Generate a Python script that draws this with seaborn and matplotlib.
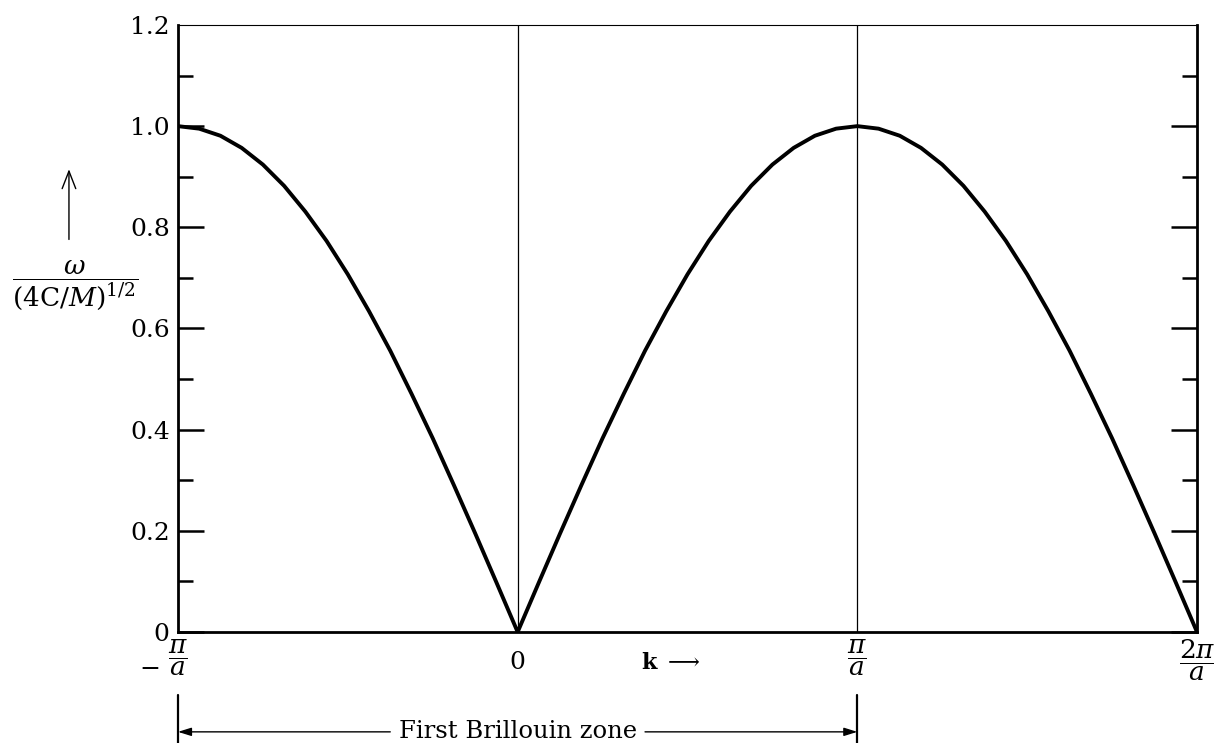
import matplotlib
matplotlib.use("Agg")
import matplotlib.pyplot as plt
import matplotlib.patches as mpatches
import matplotlib.transforms as mtransforms
import seaborn as sns
import pandas as pd

# Wavevector k, in units of pi/a, sampled every (pi/a)/16 from -pi/a to 2pi/a
k_pi_over_a = [
    -16/16, -15/16, -14/16, -13/16, -12/16, -11/16, -10/16, -9/16,
    -8/16, -7/16, -6/16, -5/16, -4/16, -3/16, -2/16, -1/16, 0.0,
    1/16, 2/16, 3/16, 4/16, 5/16, 6/16, 7/16, 8/16,
    9/16, 10/16, 11/16, 12/16, 13/16, 14/16, 15/16, 16/16,
    17/16, 18/16, 19/16, 20/16, 21/16, 22/16, 23/16, 24/16,
    25/16, 26/16, 27/16, 28/16, 29/16, 30/16, 31/16, 32/16,
]
# Reduced frequency omega / (4C/M)^(1/2)
omega_reduced = [
    1.000, 0.995, 0.981, 0.957, 0.924, 0.882, 0.831, 0.773,
    0.707, 0.634, 0.556, 0.471, 0.383, 0.290, 0.195, 0.098, 0.000,
    0.098, 0.195, 0.290, 0.383, 0.471, 0.556, 0.634, 0.707,
    0.773, 0.831, 0.882, 0.924, 0.957, 0.981, 0.995, 1.000,
    0.995, 0.981, 0.957, 0.924, 0.882, 0.831, 0.773, 0.707,
    0.634, 0.556, 0.471, 0.383, 0.290, 0.195, 0.098, 0.000,
]

x_tick_pos = [-1, 1, 2]
x_tick_labels = [r"$\dfrac{\pi}{a}$", r"$\dfrac{\pi}{a}$", r"$\dfrac{2\pi}{a}$"]
y_major = [0.0, 0.2, 0.4, 0.6, 0.8, 1.0, 1.2]
y_major_labels = ["0", "0.2", "0.4", "0.6", "0.8", "1.0", "1.2"]
y_minor = [0.1, 0.3, 0.5, 0.7, 0.9, 1.1]
zone_lines = [0, 1]
zone_edges = [-1, 1]

sns.set_style("white")
plt.rcParams["font.family"] = ["DejaVu Serif"]
plt.rcParams["mathtext.fontset"] = "dejavuserif"
plt.rcParams["text.color"] = "black"
plt.rcParams["xtick.color"] = "black"
plt.rcParams["ytick.color"] = "black"

df = pd.DataFrame({"k": k_pi_over_a, "omega": omega_reduced})

fig = plt.figure(figsize=(12.14, 7.43), dpi=100)
ax = fig.add_axes([0.1466, 0.1494, 0.8394, 0.817])

sns.lineplot(data=df, x="k", y="omega", ax=ax, color="black", lw=2.8,
             sort=False, estimator=None)

for xv in zone_lines:
    ax.axvline(xv, color="black", lw=0.9, zorder=1)

ax.set_xlim(-1, 2)
ax.set_ylim(0, 1.2)
ax.set_xlabel("")
ax.set_ylabel("")

for side in ["left", "bottom", "right"]:
    ax.spines[side].set_linewidth(2.0)
    ax.spines[side].set_color("black")
    ax.spines[side].set_visible(True)
ax.spines["top"].set_linewidth(0.8)
ax.spines["top"].set_color("black")
ax.spines["top"].set_visible(True)

ax.set_yticks(y_major)
ax.set_yticklabels(y_major_labels)
ax.set_yticks(y_minor, minor=True)
ax.tick_params(axis="y", which="major", direction="in", length=19, width=1.8,
               left=True, right=True, labelsize=18, pad=6)
ax.tick_params(axis="y", which="minor", direction="in", length=11, width=1.8,
               left=True, right=True)
# the top value sits on the thin top border, so it carries a label but no mark
top_tick = ax.yaxis.get_major_ticks()[-1]
top_tick.tick1line.set_visible(False)
top_tick.tick2line.set_visible(False)

ax.set_xticks(x_tick_pos)
ax.set_xticklabels(x_tick_labels)
ax.tick_params(axis="x", which="both", length=0, labelsize=19, pad=4)

# zero of the k axis
ax.annotate("0", xy=(0, 0), xycoords="data", xytext=(0, -22),
            textcoords="offset points", ha="center", va="center",
            fontsize=18, annotation_clip=False)

# minus sign in front of the -pi/a label
ax.annotate("\u2212", xy=(-1, 0), xycoords="data", xytext=(-20, -27),
            textcoords="offset points", ha="center", va="center",
            fontsize=18, annotation_clip=False)

# k axis label
ax.annotate(r"$\mathbf{k}\ \longrightarrow$", xy=(0.45, 0), xycoords="data",
            xytext=(0, -22), textcoords="offset points", ha="center",
            va="center", fontsize=16, annotation_clip=False)

# y axis label: arrow and reduced frequency fraction
fig.text(0.062, 0.616, r"$\dfrac{\omega}{(4\mathrm{C}/M)^{1/2}}$",
         ha="center", va="center", fontsize=19)
fig.add_artist(mpatches.FancyArrowPatch(
    (0.0568, 0.674), (0.0568, 0.776), transform=fig.transFigure,
    arrowstyle="->,head_length=0.9,head_width=0.35", lw=1.0, color="black",
    mutation_scale=14))

# First Brillouin zone marker below the axis
trans = mtransforms.blended_transform_factory(ax.transData, fig.transFigure)
for xv in zone_edges:
    ax.plot([xv, xv], [0.0, 0.064], transform=trans, color="black", lw=1.6,
            clip_on=False)
ax.text(0.0, 0.015, "First Brillouin zone", transform=trans, ha="center",
        va="center", fontsize=17.5)
arrow_style = dict(arrowstyle="-|>,head_length=0.8,head_width=0.25",
                   lw=1.0, color="black", shrinkA=0, shrinkB=0)
ax.annotate("", xy=(zone_edges[0], 0.015), xycoords=trans,
            xytext=(-0.375, 0.015), textcoords=trans, arrowprops=arrow_style)
ax.annotate("", xy=(zone_edges[1], 0.015), xycoords=trans,
            xytext=(0.375, 0.015), textcoords=trans, arrowprops=arrow_style)

fig.savefig("out.png", dpi=100, facecolor="white")
